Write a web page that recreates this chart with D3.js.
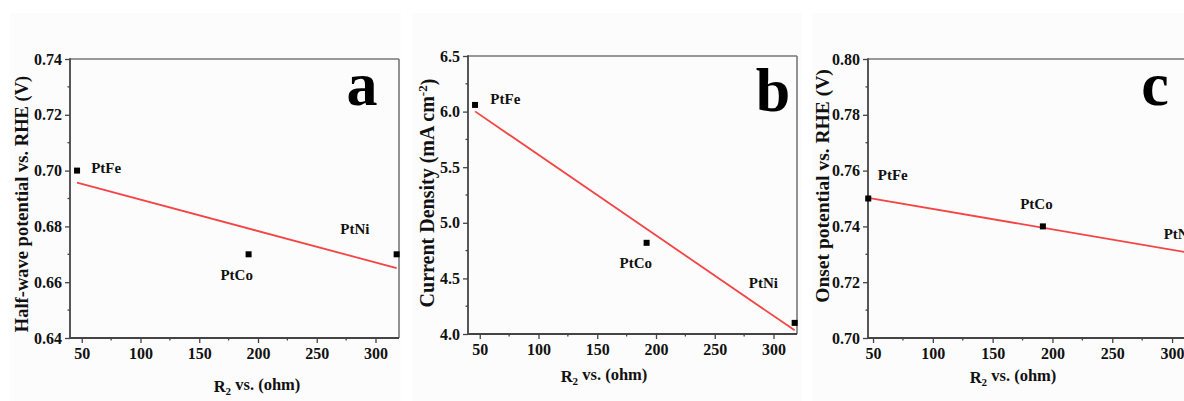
<!DOCTYPE html>
<html>
<head>
<meta charset="utf-8">
<script src="https://cdn.jsdelivr.net/npm/d3@7"></script>
<style>
  html, body { margin: 0; padding: 0; background: #fff; }
  svg { display: block; font-family: "Liberation Serif", "Times New Roman", serif; font-weight: bold; }
</style>
</head>
<body>
<div id="chart"></div>
<script>
const samples = ["PtFe", "PtCo", "PtNi"];
const r2Ohm = [46, 192, 318];
const halfWave = [0.70, 0.67, 0.67];          // V vs. RHE
const currentDensity = [6.06, 4.82, 4.10];    // mA cm^-2
const onset = [0.75, 0.74, 0.73];             // V vs. RHE

// label anchors, data units
const labelA = [[58, 0.7009], [168, 0.6626], [270, 0.6791]];
const labelB = [[59, 6.12], [169, 4.64], [279, 4.46]];
const labelC = [[54, 0.7584], [173, 0.748], [293, 0.7373]];

const xTicks = [50, 100, 150, 200, 250, 300];

const panels = [
  {
    letter: "a", values: halfWave, labels: labelA,
    xDomain: [40, 320], yDomain: [0.64, 0.74],
    yTicks: [0.64, 0.66, 0.68, 0.70, 0.72, 0.74], yMinor: 0.01, yFmt: ".2f",
    yTitle: "Half-wave potential vs. RHE (V)", yTitleSize: 18.5,
    bg: [10, 13, 391], box: [70, 59, 399, 338],
    yTitlePos: [22, 204], xTitlePos: [257, 392], letterPos: [362, 105]
  },
  {
    letter: "b", values: currentDensity, labels: labelB,
    xDomain: [40, 320], yDomain: [4.0, 6.5],
    yTicks: [4.0, 4.5, 5.0, 5.5, 6.0, 6.5], yMinor: 0.25, yFmt: ".1f",
    yTitle: null, yTitleSize: 20,
    bg: [412, 13, 390], box: [468, 56, 797, 334],
    yTitlePos: [427, 193], xTitlePos: [604, 382], letterPos: [773, 111]
  },
  {
    letter: "c", values: onset, labels: labelC,
    xDomain: [45.8, 320], yDomain: [0.70, 0.80],
    yTicks: [0.70, 0.72, 0.74, 0.76, 0.78, 0.80], yMinor: 0.01, yFmt: ".2f",
    yTitle: "Onset potential vs. RHE (V)", yTitleSize: 19.5,
    bg: [812, 13, 380], box: [868, 59, 1196, 338],
    yTitlePos: [822, 186], xTitlePos: [1013, 383], letterPos: [1155, 105]
  }
];

const W = 1184, H = 401;
const svg = d3.select("#chart").append("svg")
  .attr("width", W).attr("height", H)
  .attr("viewBox", `0 0 ${W} ${H}`);

svg.append("rect").attr("width", W).attr("height", H).attr("fill", "#fff");

// least-squares line through the three points
function fit(xs, ys) {
  const mx = d3.mean(xs), my = d3.mean(ys);
  const sxy = d3.sum(xs, (x, i) => (x - mx) * (ys[i] - my));
  const sxx = d3.sum(xs, x => (x - mx) * (x - mx));
  const k = sxy / sxx;
  return x => my + k * (x - mx);
}

panels.forEach(p => {
  const [bx, by, bw] = p.bg;
  const [x0, y0, x1, y1] = p.box;
  const g = svg.append("g");

  g.append("rect")
    .attr("x", bx).attr("y", by).attr("width", bw).attr("height", H - by)
    .attr("fill", "#fcfcfc");

  const x = d3.scaleLinear().domain(p.xDomain).range([x0, x1]);
  const y = d3.scaleLinear().domain(p.yDomain).range([y1, y0]);

  // minor ticks
  const xMinor = d3.range(75, 320, 50);
  g.append("g").selectAll("line").data(xMinor).join("line")
    .attr("x1", d => x(d)).attr("x2", d => x(d))
    .attr("y1", y1).attr("y2", y1 + 2.5)
    .attr("stroke", "#444").attr("stroke-width", 1.3);
  const yMinorVals = d3.range(p.yDomain[0] + p.yMinor, p.yDomain[1], p.yMinor * 2);
  g.append("g").selectAll("line").data(yMinorVals).join("line")
    .attr("x1", x0 - 2.5).attr("x2", x0)
    .attr("y1", d => y(d)).attr("y2", d => y(d))
    .attr("stroke", "#444").attr("stroke-width", 1.3);

  // axes
  const xAxis = g.append("g").attr("transform", `translate(0,${y1})`)
    .call(d3.axisBottom(x).tickValues(xTicks).tickSize(5).tickPadding(5).tickSizeOuter(0));
  const yAxis = g.append("g").attr("transform", `translate(${x0},0)`)
    .call(d3.axisLeft(y).tickValues(p.yTicks).tickFormat(d3.format(p.yFmt)).tickSize(5).tickPadding(3).tickSizeOuter(0));
  [xAxis, yAxis].forEach(a => {
    a.select(".domain").remove();
    a.selectAll(".tick line").attr("stroke", "#444").attr("stroke-width", 1.3);
    a.selectAll(".tick text")
      .attr("fill", "#111")
      .style("font-family", "'Liberation Serif', 'Times New Roman', serif")
      .style("font-weight", "bold").style("font-size", "16px");
  });

  // frame
  g.append("line").attr("x1", x0).attr("x2", x1).attr("y1", y0).attr("y2", y0)
    .attr("stroke", "#777").attr("stroke-width", 1.6);
  g.append("line").attr("x1", x1).attr("x2", x1).attr("y1", y0).attr("y2", y1)
    .attr("stroke", "#777").attr("stroke-width", 1.6);
  g.append("line").attr("x1", x0).attr("x2", x1).attr("y1", y1).attr("y2", y1)
    .attr("stroke", "#444").attr("stroke-width", 1.8);
  g.append("line").attr("x1", x0).attr("x2", x0).attr("y1", y0 - 0.8).attr("y2", y1)
    .attr("stroke", "#444").attr("stroke-width", 1.8);

  // fitted line
  const f = fit(r2Ohm, p.values);
  const ends = d3.extent(r2Ohm);
  g.append("path")
    .datum(ends)
    .attr("d", d3.line().x(d => x(d)).y(d => y(f(d))))
    .attr("stroke", "#f44444").attr("stroke-width", 1.8).attr("fill", "none");

  // points
  g.append("g").selectAll("rect").data(r2Ohm).join("rect")
    .attr("x", d => x(d) - 3).attr("y", (d, i) => y(p.values[i]) - 3)
    .attr("width", 6).attr("height", 6).attr("fill", "#000");

  // sample labels
  g.append("g").selectAll("text").data(p.labels).join("text")
    .attr("x", d => x(d[0])).attr("y", d => y(d[1]))
    .attr("dy", "0.35em")
    .attr("font-size", 15).attr("fill", "#111")
    .text((d, i) => samples[i]);

  // panel letter
  g.append("text")
    .attr("x", p.letterPos[0]).attr("y", p.letterPos[1])
    .attr("text-anchor", "middle")
    .attr("font-size", 62).attr("fill", "#000")
    .text(p.letter);

  // y title
  const yt = g.append("text")
    .attr("transform", `translate(${p.yTitlePos[0]},${p.yTitlePos[1]}) rotate(-90)`)
    .attr("text-anchor", "middle").attr("dy", "0.35em")
    .attr("font-size", p.yTitleSize).attr("fill", "#111");
  if (p.yTitle) {
    yt.text(p.yTitle);
  } else {
    yt.append("tspan").text("Current Density (mA cm");
    yt.append("tspan").attr("font-size", 13).attr("dy", "-0.55em").text("-2");
    yt.append("tspan").attr("dy", "0.4em").text(")");
  }

  // x title
  const xt = g.append("text")
    .attr("x", p.xTitlePos[0]).attr("y", p.xTitlePos[1])
    .attr("text-anchor", "middle")
    .attr("font-size", 16.5).attr("fill", "#111");
  xt.append("tspan").text("R");
  xt.append("tspan").attr("font-size", 11).attr("dy", "0.3em").text("2");
  xt.append("tspan").attr("dy", "-0.3em").text(" vs. (ohm)");
});
</script>
</body>
</html>
